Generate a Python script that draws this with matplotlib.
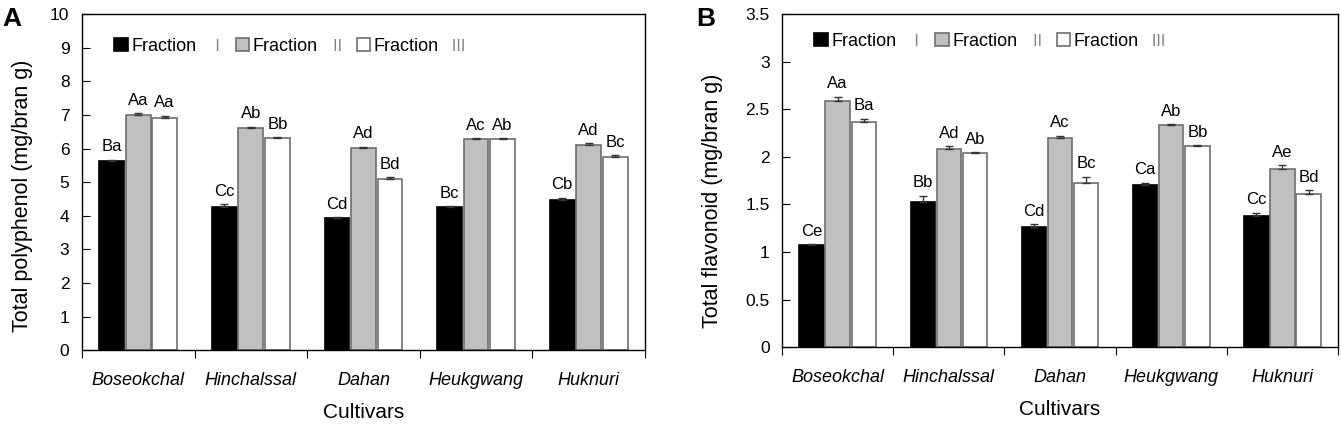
import matplotlib
matplotlib.use("Agg")
import matplotlib.pyplot as plt
import numpy as np

plt.rcParams['font.family'] = ['Liberation Sans', 'Noto Sans CJK KR', 'DejaVu Sans']

cultivars = ["Boseokchal", "Hinchalssal", "Dahan", "Heukgwang", "Huknuri"]
fractions = ["Fraction", "Fraction", "Fraction"]
numerals = ["\u2160", "\u2161", "\u2162"]

# total polyphenol (mg/bran g)
poly_f1 = [5.62, 4.26, 3.93, 4.25, 4.48]
poly_f2 = [7.01, 6.60, 6.03, 6.27, 6.10]
poly_f3 = [6.91, 6.30, 5.09, 6.27, 5.75]
poly_e1 = [0.04, 0.08, 0.03, 0.03, 0.05]
poly_e2 = [0.04, 0.04, 0.03, 0.03, 0.05]
poly_e3 = [0.06, 0.03, 0.05, 0.03, 0.05]
poly_l1 = ["Ba", "Cc", "Cd", "Bc", "Cb"]
poly_l2 = ["Aa", "Ab", "Ad", "Ac", "Ad"]
poly_l3 = ["Aa", "Bb", "Bd", "Ab", "Bc"]

# total flavonoid (mg/bran g)
flav_f1 = [1.07, 1.53, 1.26, 1.70, 1.38]
flav_f2 = [2.59, 2.08, 2.20, 2.33, 1.87]
flav_f3 = [2.37, 2.04, 1.72, 2.11, 1.61]
flav_e1 = [0.01, 0.06, 0.03, 0.03, 0.03]
flav_e2 = [0.04, 0.03, 0.02, 0.01, 0.04]
flav_e3 = [0.03, 0.01, 0.07, 0.01, 0.04]
flav_l1 = ["Ce", "Bb", "Cd", "Ca", "Cc"]
flav_l2 = ["Aa", "Ad", "Ac", "Ab", "Ae"]
flav_l3 = ["Ba", "Ab", "Bc", "Bb", "Bd"]

fills = ["black", "#c0c0c0", "white"]
edges = ["black", "#6e6e6e", "#6e6e6e"]


def draw_panel(ax, series, errs, labels, ymax, ystep, ylabel, ylab_pos, leg_y):
    x = np.arange(len(cultivars)) + 0.5
    for i in range(3):
        xi = x + (i - 1) * 0.235
        ax.bar(xi, series[i], width=0.22, color=fills[i], edgecolor=edges[i],
               linewidth=1.2, label=fractions[i], zorder=2)
        ax.errorbar(xi, series[i], yerr=[np.zeros(len(errs[i])), errs[i]],
                    fmt='none', ecolor='#333333', elinewidth=1, capsize=3,
                    capthick=1, zorder=3)
        for xx, v, e, t in zip(xi, series[i], errs[i], labels[i]):
            ax.annotate(t, (xx, v + e), xytext=(0, 4), textcoords='offset points',
                        ha='center', va='bottom', fontsize=12)
    ax.set_xlim(0, len(cultivars))
    ax.set_ylim(0, ymax)
    yt = np.arange(0, ymax + ystep / 2, ystep)
    ax.set_yticks(yt)
    ax.set_yticklabels([f"{v:g}" for v in yt])
    ax.set_xticks(np.arange(len(cultivars) + 1))
    ax.set_xticklabels([])
    ax.set_xticks(x, minor=True)
    ax.set_xticklabels(cultivars, minor=True, fontstyle='italic', fontsize=13)
    ax.tick_params(axis='x', which='minor', length=0, pad=16)
    ax.tick_params(axis='x', which='major', length=6, direction='out')
    ax.tick_params(axis='y', length=6, direction='in', labelsize=12.5, pad=9)
    for s in ax.spines.values():
        s.set_linewidth(1)
    ax.set_ylabel(ylabel, fontsize=15.5)
    ax.yaxis.set_label_coords(*ylab_pos)
    ax.set_xlabel("Cultivars", fontsize=15, labelpad=10)
    leg = ax.legend(loc='upper left', ncol=3, frameon=False, fontsize=13,
                    handlelength=0.75, handleheight=0.75, handletextpad=0.2,
                    columnspacing=2.15, bbox_to_anchor=(0.045, leg_y),
                    borderaxespad=0)
    return leg


fig = plt.figure(figsize=(13.41, 4.28), dpi=100)
ax1 = fig.add_axes([0.0611, 0.182, 0.4199, 0.785])
ax2 = fig.add_axes([0.5832, 0.189, 0.4146, 0.778])

leg1 = draw_panel(ax1, [poly_f1, poly_f2, poly_f3], [poly_e1, poly_e2, poly_e3],
                  [poly_l1, poly_l2, poly_l3], 10, 1,
                  "Total polyphenol (mg/bran g)", (-0.087, 0.458), 0.95)
leg2 = draw_panel(ax2, [flav_f1, flav_f2, flav_f3], [flav_e1, flav_e2, flav_e3],
                  [flav_l1, flav_l2, flav_l3], 3.5, 0.5,
                  "Total flavonoid (mg/bran g)", (-0.106, 0.44), 0.965)

fig.text(0.002, 1 - 19 / 428, "A", fontsize=19, fontweight='bold', va='center')
fig.text(0.519, 1 - 19 / 428, "B", fontsize=19, fontweight='bold', va='center')

# roman numerals drawn after each legend entry in light gray
fig.canvas.draw()
W, H = fig.bbox.width, fig.bbox.height
for leg in (leg1, leg2):
    for t, n in zip(leg.get_texts(), numerals):
        bb = t.get_window_extent()
        fig.text((bb.x1 + 12) / W, (bb.y0 + bb.y1) / 2 / H, n, fontsize=11,
                 color='#808080', va='center', ha='left',
                 family=['Noto Sans CJK KR', 'DejaVu Sans'])

fig.savefig("out.png", dpi=100)
